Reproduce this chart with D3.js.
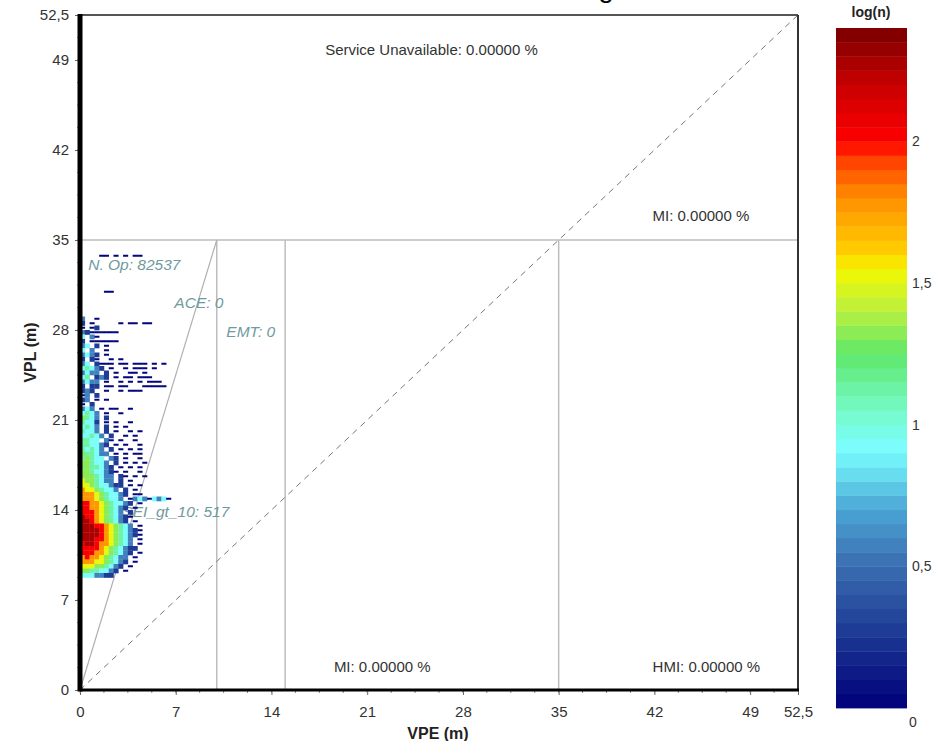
<!DOCTYPE html>
<html>
<head>
<meta charset="utf-8">
<script src="https://cdn.jsdelivr.net/npm/d3@7/dist/d3.min.js"></script>
<style>
  body { margin: 0; background: #fff; }
  text { font-family: Arial, "Liberation Sans", sans-serif; }
</style>
</head>
<body>
<div id="chart"></div>
<script>
// Axis ticks (metres) and colour bar ticks (log10 of count)
const xTicks = [0, 7, 14, 21, 28, 35, 42, 49, 52.5];
const yTicks = [0, 7, 14, 21, 28, 35, 42, 49, 52.5];
const colorTicks = [0.5, 1, 1.5, 2];

// Region boundaries
const alertLimit = 35;
const vpeLines = [10, 15, 35];
const aceLine = [[0, 0], [10, 35]];

// Annotation texts
const regionLabels = ["Service Unavailable: 0.00000 %", "MI: 0.00000 %", "MI: 0.00000 %", "HMI: 0.00000 %"];
const statLabels = ["N. Op: 82537", "ACE: 0", "EMT: 0", "SEI_gt_10: 517"];

// 2D histogram of VPE x VPL.
// cell = 0.35 m square, first string is the row whose bottom is at topRow * cell,
// each char is a level index into logLevels ('.' = no epoch)
const cell = 0.35;
const topRow = 96;
const logLevels = [0, 0.3, 0.6, 0.9, 1.1, 1.3, 1.5, 1.75, 2.0, 2.25];
const histRows = [
  "....00.0.0.00.......",
  "....................",
  "....................",
  "....................",
  "....................",
  "....................",
  "....................",
  "....................",
  ".....00.............",
  "....................",
  "....................",
  "....................",
  "....................",
  "....................",
  "2..0................",
  "1.0.....0.00.00.....",
  "0.01................",
  "21000000............",
  "3.20................",
  "1.000000............",
  "23.1.0..............",
  "3.2..0..............",
  "2321.0..............",
  "1.10..0.0...........",
  "23.1000.00.000.0.0..",
  "34321.0..0.000.0....",
  "2322.1.0..00.0......",
  "34.121.0.00.000.....",
  "2322.0..0.0.0.000...",
  "1.11.00.00...00000..",
  "121..0..0.000.......",
  "02.1................",
  "12.0.0..............",
  "0.1.................",
  "232.0.00..0.........",
  "3432.0..0...........",
  "5432.1..............",
  "4331.0.0..0.........",
  "3432.1.0.0..........",
  "4332.1.0..0.0.......",
  "33432.1..0.0........",
  "4433.20.0..0........",
  "443321.0.0..0.......",
  "43432.1.0.0.0.......",
  "544322.0.0.00.......",
  "45433.21.0..0.......",
  "554332.1.0.0.0......",
  "5544321.0.0.0.......",
  "55433210.0..0.......",
  "5554322.10.0.0......",
  "6554322.1.0.........",
  "665433211.0.0.......",
  "76654332.1.0........",
  "7776543321.00.......",
  "777654332.023203230.",
  "88776543321.0.......",
  "8877654321.0........",
  "888765432.1.........",
  "98876543210.........",
  "9987654321.0........",
  "99988765432.0.......",
  "9999876543210.......",
  "9999876543210.......",
  "99988765432.0.......",
  "89987765432.0.......",
  "888876543211........",
  "88877654321.0.......",
  "7877654322.0........",
  "7776654321.0........",
  "666554321.0.........",
  "55443321.0..........",
  "3332211............."
];

// jet-like colour map of the colour bar, drawn in 0.05 bands
const cmapStops = [
  [0.00, "#00007a"], [0.25, "#1b3592"], [0.50, "#3a6cb0"], [0.70, "#4aa5d5"],
  [0.85, "#6ee8f5"], [0.92, "#7afdfd"], [1.05, "#76fac8"], [1.25, "#5ee86a"],
  [1.40, "#b8f040"], [1.55, "#f4f800"], [1.60, "#ffd200"], [1.80, "#ff9000"],
  [1.92, "#ff4a00"], [2.00, "#ff0000"], [2.20, "#c80000"], [2.40, "#7a0000"]
];
const cmapLin = d3.scaleLinear()
  .domain(cmapStops.map(d => d[0]))
  .range(cmapStops.map(d => d[1]))
  .clamp(true);
const band = 0.05;
const colorOf = v => cmapLin(Math.floor(v / band) * band + band / 2);

const W = 949, H = 741;
const svg = d3.select("#chart").append("svg")
  .attr("width", W)
  .attr("height", H);

const x = d3.scaleLinear().domain([0, 52.5]).range([80, 798]);
const y = d3.scaleLinear().domain([0, 52.5]).range([690, 15]);
const fmt = d => String(d).replace(".", ",");

// title, cut off above the window as in the original screenshot
svg.append("text")
  .attr("x", 662)
  .attr("y", -3)
  .attr("text-anchor", "end")
  .attr("font-size", 28)
  .attr("fill", "#000")
  .text("Vertical Stanford Diagram");

svg.append("defs").append("clipPath").attr("id", "plotclip")
  .append("rect")
  .attr("x", x(0)).attr("y", y(52.5))
  .attr("width", x(52.5) - x(0)).attr("height", y(0) - y(52.5));

const plot = svg.append("g");

// region lines
plot.append("line")
  .attr("x1", x(0)).attr("x2", x(52.5))
  .attr("y1", y(alertLimit)).attr("y2", y(alertLimit))
  .attr("stroke", "#bdbdbd").attr("stroke-width", 1.5);

plot.selectAll(".vline").data(vpeLines).enter().append("line")
  .attr("class", "vline")
  .attr("x1", d => x(d)).attr("x2", d => x(d))
  .attr("y1", y(0)).attr("y2", y(alertLimit))
  .attr("stroke", "#bdbdbd").attr("stroke-width", 1.5);

plot.append("line")
  .attr("x1", x(aceLine[0][0])).attr("y1", y(aceLine[0][1]))
  .attr("x2", x(aceLine[1][0])).attr("y2", y(aceLine[1][1]))
  .attr("stroke", "#b0b0b0").attr("stroke-width", 1.2);

plot.append("line")
  .attr("x1", x(0)).attr("y1", y(0))
  .attr("x2", x(52.5)).attr("y2", y(52.5))
  .attr("stroke", "#777").attr("stroke-width", 1)
  .attr("stroke-dasharray", "6,5");

// region percentages
const regionPos = [[25.7, 49.8], [45.4, 36.9], [22.1, 1.8], [45.8, 1.8]];
plot.selectAll(".rlab").data(regionLabels).enter().append("text")
  .attr("class", "rlab")
  .attr("x", (d, i) => x(regionPos[i][0]))
  .attr("y", (d, i) => y(regionPos[i][1]))
  .attr("dy", "0.35em")
  .attr("text-anchor", "middle")
  .attr("font-size", 15)
  .attr("fill", "#333")
  .text(d => d);

// statistics labels
const statPos = [[0.6, 33.1], [6.9, 30.1], [10.7, 27.9], [3.1, 13.9]];
plot.selectAll(".slab").data(statLabels).enter().append("text")
  .attr("class", "slab")
  .attr("x", (d, i) => x(statPos[i][0]))
  .attr("y", (d, i) => y(statPos[i][1]))
  .attr("dy", "0.35em")
  .attr("font-size", 15.5)
  .attr("font-style", "italic")
  .attr("fill", "#6f9a9e")
  .text(d => d);

// histogram cells (single-epoch bins read as thin dashes in the original)
const cells = [];
histRows.forEach((row, i) => {
  const r = topRow - i;
  row.split("").forEach((ch, c) => {
    if (ch !== ".") cells.push({ r, c, v: logLevels[+ch] });
  });
});
const cellW = x(cell) - x(0), cellH = y(0) - y(cell);

plot.append("g")
  .attr("clip-path", "url(#plotclip)")
  .selectAll("rect").data(cells).enter().append("rect")
  .attr("x", d => x(d.c * cell))
  .attr("y", d => d.v === 0 ? y((d.r + 0.5) * cell) - 1 : y((d.r + 1) * cell))
  .attr("width", cellW + 0.3)
  .attr("height", d => d.v === 0 ? 2 : cellH + 0.3)
  .attr("fill", d => colorOf(d.v));

// axes
const yAxis = svg.append("g")
  .attr("transform", `translate(${x(0)},0)`)
  .call(d3.axisLeft(y).tickValues(yTicks).tickFormat(fmt).tickSize(5).tickPadding(6));
const xAxis = svg.append("g")
  .attr("transform", `translate(0,${y(0)})`)
  .call(d3.axisBottom(x).tickValues(xTicks).tickFormat(fmt).tickSize(5).tickPadding(11));
[xAxis, yAxis].forEach(g => {
  g.select(".domain").remove();
  g.selectAll(".tick line").attr("stroke", "#666");
  g.selectAll(".tick text").attr("font-size", 15).attr("fill", "#333")
    .attr("font-family", "Arial, 'Liberation Sans', sans-serif");
});

// minor ticks
const minor = d3.range(0, 52.5, 1.75);
svg.append("g").selectAll("line").data(minor).enter().append("line")
  .attr("x1", x(0) - 3).attr("x2", x(0))
  .attr("y1", d => y(d)).attr("y2", d => y(d))
  .attr("stroke", "#888");
svg.append("g").selectAll("line").data(minor).enter().append("line")
  .attr("y1", y(0)).attr("y2", y(0) + 3)
  .attr("x1", d => x(d)).attr("x2", d => x(d))
  .attr("stroke", "#888");

// frame
svg.append("line")
  .attr("x1", x(0)).attr("x2", x(52.5)).attr("y1", y(52.5)).attr("y2", y(52.5))
  .attr("stroke", "#555").attr("stroke-width", 2);
svg.append("line")
  .attr("x1", x(52.5)).attr("x2", x(52.5)).attr("y1", y(52.5)).attr("y2", y(0))
  .attr("stroke", "#333").attr("stroke-width", 2);
svg.append("line")
  .attr("x1", x(0)).attr("x2", x(52.5) + 1).attr("y1", y(0)).attr("y2", y(0))
  .attr("stroke", "#000").attr("stroke-width", 3);
svg.append("line")
  .attr("x1", x(0)).attr("x2", x(0)).attr("y1", y(52.5) - 1).attr("y2", y(0) + 1.5)
  .attr("stroke", "#000").attr("stroke-width", 5);

// axis titles
svg.append("text")
  .attr("x", 438).attr("y", 739)
  .attr("text-anchor", "middle")
  .attr("font-size", 16).attr("font-weight", "bold").attr("fill", "#222")
  .text("VPE (m)");
svg.append("text")
  .attr("transform", `translate(36,${(y(0) + y(52.5)) / 2}) rotate(-90)`)
  .attr("text-anchor", "middle")
  .attr("font-size", 16).attr("font-weight", "bold").attr("fill", "#222")
  .text("VPL (m)");

// colour bar
const cy = d3.scaleLinear().domain([0, 2.4]).range([708, 28]);
const bands = d3.range(0, 2.4 - 1e-9, band);
svg.append("g").selectAll("rect").data(bands).enter().append("rect")
  .attr("x", 836)
  .attr("y", d => cy(d + band))
  .attr("width", 71)
  .attr("height", d => cy(d) - cy(d + band) + 0.4)
  .attr("fill", d => colorOf(d + band / 2));

svg.append("g").selectAll("text").data(colorTicks).enter().append("text")
  .attr("x", 912)
  .attr("y", d => cy(d))
  .attr("dy", "0.35em")
  .attr("font-size", 14).attr("fill", "#333")
  .text(fmt);
svg.append("text")
  .attr("x", 909).attr("y", cy(0) + 14)
  .attr("dy", "0.35em")
  .attr("font-size", 14).attr("fill", "#333")
  .text("0");
svg.append("text")
  .attr("x", 871).attr("y", 17)
  .attr("text-anchor", "middle")
  .attr("font-size", 14).attr("font-weight", "bold").attr("fill", "#222")
  .text("log(n)");
</script>
</body>
</html>
